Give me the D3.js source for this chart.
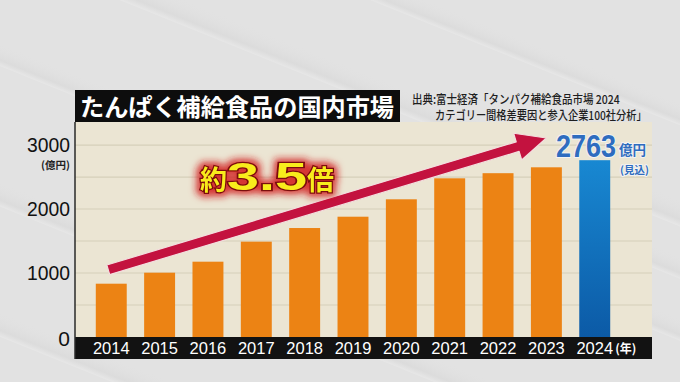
<!DOCTYPE html>
<html lang="ja">
<head>
<meta charset="UTF-8">
<title>たんぱく補給食品の国内市場</title>
<script src="https://d3js.org/d3.v7.min.js"></script>
<style>
  body { margin: 0; background: #e3e3e3; }
  svg { display: block; }
  .jp { font-family: 'Noto Sans CJK JP', 'Noto Sans', sans-serif; }
  .num { font-family: 'Liberation Sans', Arial, sans-serif; }
</style>
</head>
<body>
<svg id="chart" width="680" height="382"></svg>
<script>
// data (億円)
const years = ["2014", "2015", "2016", "2017", "2018", "2019", "2020", "2021", "2022", "2023", "2024"];
const market = [833, 1005, 1177, 1490, 1703, 1880, 2152, 2480, 2560, 2652, 2763];
const yTicks = [0, 1000, 2000, 3000];
const gridTicks = [500, 1000, 1500, 2000, 2500, 3000];
const forecastYear = "2024";
// arrow annotation, in data units
const arrowFrom = { year: "2014", value: 1050 };
const arrowTo = { year: "2023", value: 3110 };

const W = 680, H = 382;
const plot = { left: 75, right: 652, top: 122, base: 337, axisBottom: 359 };

const svg = d3.select("#chart");
const defs = svg.append("defs");

// squeeze a text horizontally so it spans `width` px
function fitWidth(sel, x0, y0, width) {
  const natural = sel.node().getComputedTextLength();
  sel.attr("transform", `translate(${x0},${y0}) scale(${width / natural},1)`);
}

// soft diagonal background stripes
const stripeGrad = defs.append("linearGradient").attr("id", "stripe")
  .attr("x1", 0).attr("y1", 0).attr("x2", 0).attr("y2", 1);
stripeGrad.append("stop").attr("offset", "0%").attr("stop-color", "#e3e3e3").attr("stop-opacity", 0);
stripeGrad.append("stop").attr("offset", "75%").attr("stop-color", "#d4d4d4").attr("stop-opacity", 0.45);
stripeGrad.append("stop").attr("offset", "100%").attr("stop-color", "#ececec").attr("stop-opacity", 0.5);

svg.append("rect").attr("width", W).attr("height", H).attr("fill", "#e2e2e2");
const stripes = [[-80, 10, 22], [90, -40, 26], [330, -40, 22], [-150, 120, 24], [-200, 230, 24], [420, 150, 22]];
stripes.forEach(([x, y, h]) => {
  svg.append("rect")
    .attr("x", x).attr("y", y).attr("width", 900).attr("height", h)
    .attr("fill", "url(#stripe)")
    .attr("transform", `rotate(22 ${x} ${y})`);
});

// scales
const x = d3.scaleBand().domain(years)
  .range([plot.left, 631]).paddingInner(0.36).paddingOuter(0.43);
const y = d3.scaleLinear().domain([0, 3360]).range([plot.base, plot.top]);

// plot background
svg.append("rect")
  .attr("x", plot.left).attr("y", plot.top)
  .attr("width", plot.right - plot.left).attr("height", plot.base - plot.top)
  .attr("fill", "#ebe5d3");

svg.append("g").selectAll("line").data(gridTicks).join("line")
  .attr("x1", plot.left).attr("x2", plot.right)
  .attr("y1", d => y(d)).attr("y2", d => y(d))
  .attr("stroke", "#d6cfba").attr("stroke-width", 1.2);

// bars
const blue = defs.append("linearGradient").attr("id", "blueBar")
  .attr("x1", 0).attr("y1", 0).attr("x2", 0).attr("y2", 1);
blue.append("stop").attr("offset", "0%").attr("stop-color", "#1888d2");
blue.append("stop").attr("offset", "100%").attr("stop-color", "#0c5aa6");

svg.append("g").selectAll("rect").data(years).join("rect")
  .attr("x", d => x(d))
  .attr("width", x.bandwidth())
  .attr("y", (d, i) => y(market[i]))
  .attr("height", (d, i) => y(0) - y(market[i]))
  .attr("fill", d => d === forecastYear ? "url(#blueBar)" : "#ec8314");

// x axis band
svg.append("rect")
  .attr("x", plot.left).attr("y", plot.base)
  .attr("width", plot.right - plot.left).attr("height", plot.axisBottom - plot.base)
  .attr("fill", "#121212");

svg.append("line")
  .attr("x1", plot.left).attr("x2", plot.left)
  .attr("y1", plot.top).attr("y2", plot.axisBottom)
  .attr("stroke", "#2a2a2a").attr("stroke-width", 1.5);

svg.append("g").attr("class", "num").selectAll("text").data(years).join("text")
  .attr("x", d => x(d) + x.bandwidth() / 2)
  .attr("y", plot.base + 17)
  .attr("text-anchor", "middle")
  .attr("font-size", 16.5)
  .attr("fill", "#ffffff")
  .text(d => d);

svg.append("text").attr("class", "jp")
  .attr("x", x("2024") + x.bandwidth() + 5).attr("y", plot.base + 16)
  .attr("font-size", 12).attr("font-weight", 700).attr("fill", "#ffffff")
  .text("(年)");

// y tick labels
svg.append("g").attr("class", "num").selectAll("text").data(yTicks).join("text")
  .attr("x", 70)
  .attr("y", d => d === 0 ? y(d) + 9 : y(d) + 7)
  .attr("text-anchor", "end")
  .attr("font-size", 21)
  .attr("fill", "#111")
  .attr("textLength", d => d === 0 ? null : 43)
  .attr("lengthAdjust", "spacingAndGlyphs")
  .text(d => d);

svg.append("text").attr("class", "jp")
  .attr("x", 70).attr("y", y(3000) + 24)
  .attr("text-anchor", "end")
  .attr("font-size", 10.5).attr("font-weight", 700).attr("fill", "#222")
  .text("(億円)");

// title
svg.append("rect")
  .attr("x", plot.left).attr("y", 90)
  .attr("width", 325).attr("height", plot.top - 90)
  .attr("fill", "#0d0d0d");
svg.append("text").attr("class", "jp")
  .attr("x", 80).attr("y", 116)
  .attr("font-size", 24).attr("font-weight", 700).attr("fill", "#ffffff")
  .attr("textLength", 314).attr("lengthAdjust", "spacingAndGlyphs")
  .text("たんぱく補給食品の国内市場");

// source
const src = svg.append("g").attr("class", "jp")
  .attr("font-size", 12).attr("font-weight", 500).attr("fill", "#1e1e1e");
fitWidth(src.append("text").text("出典:富士経済「タンパク補給食品市場 2024"), 412, 104, 208);
fitWidth(src.append("text").text("カテゴリー間格差要因と参入企業100社分析」"), 435, 120, 212);

// arrow
const ax0 = x(arrowFrom.year) + x.bandwidth() / 2 - 3, ay0 = y(arrowFrom.value);
const ax1 = x(arrowTo.year) + x.bandwidth() / 2, ay1 = y(arrowTo.value);
const len = Math.hypot(ax1 - ax0, ay1 - ay0);
const ux = (ax1 - ax0) / len, uy = (ay1 - ay0) / len;
const headLen = 30, headHalf = 14, shaft = 5;
const bx = ax1 - ux * headLen, by = ay1 - uy * headLen;
const px = -uy, py = ux;
const arrowPts = [
  [ax0 + px * shaft, ay0 + py * shaft],
  [bx + px * shaft, by + py * shaft],
  [bx + px * headHalf, by + py * headHalf],
  [ax1, ay1],
  [bx - px * headHalf, by - py * headHalf],
  [bx - px * shaft, by - py * shaft],
  [ax0 - px * shaft, ay0 - py * shaft]
];
svg.append("path")
  .attr("d", d3.line()(arrowPts) + "Z")
  .attr("fill", "#c3123f")
  .attr("stroke", "#f3dede").attr("stroke-width", 1.2).attr("stroke-linejoin", "round");

// 約3.5倍
const glow = defs.append("filter").attr("id", "glow")
  .attr("x", "-20%").attr("y", "-40%").attr("width", "140%").attr("height", "180%");
glow.append("feMorphology").attr("in", "SourceAlpha").attr("operator", "dilate").attr("radius", 3).attr("result", "d");
glow.append("feGaussianBlur").attr("in", "d").attr("stdDeviation", 3.5).attr("result", "b");
glow.append("feFlood").attr("flood-color", "#d11b1b").attr("flood-opacity", 0.85);
glow.append("feComposite").attr("in2", "b").attr("operator", "in").attr("result", "g");
const gm = glow.append("feMerge");
gm.append("feMergeNode").attr("in", "g");
gm.append("feMergeNode").attr("in", "SourceGraphic");

const mult = svg.append("text")
  .attr("x", 200).attr("y", 190)
  .attr("fill", "#f8ec1c").attr("stroke", "#7a0b0b").attr("stroke-width", 2.5)
  .attr("paint-order", "stroke").attr("font-weight", 700)
  .attr("filter", "url(#glow)");
mult.append("tspan").attr("class", "jp").attr("font-size", 27).text("約");
mult.append("tspan").attr("class", "num").attr("font-size", 39)
  .attr("textLength", 80).attr("lengthAdjust", "spacingAndGlyphs").text("3.5");
mult.append("tspan").attr("class", "jp").attr("font-size", 27).text("倍");

// 2763億円 (見込)
const last = market[years.indexOf(forecastYear)];
const lbl = svg.append("g").attr("fill", "#2e6cbf")
  .attr("stroke", "#f2f2f2").attr("stroke-width", 2).attr("paint-order", "stroke");
lbl.append("text").attr("class", "num")
  .attr("transform", "translate(556,157) scale(0.87,1)")
  .attr("font-size", 31).attr("font-weight", 700)
  .text(last);
lbl.append("text").attr("class", "jp")
  .attr("x", 619).attr("y", 155)
  .attr("font-size", 13.5).attr("font-weight", 700)
  .text("億円");
lbl.append("text").attr("class", "jp")
  .attr("x", 620).attr("y", 174)
  .attr("font-size", 10.5).attr("font-weight", 700)
  .text("(見込)");
</script>
</body>
</html>
